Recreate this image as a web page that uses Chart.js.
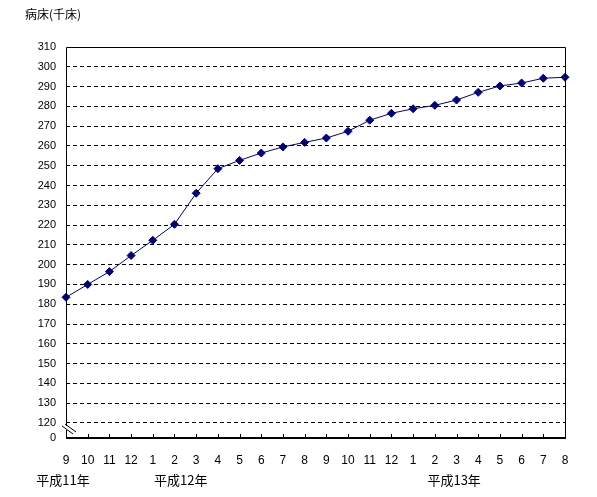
<!DOCTYPE html>
<html>
<head>
<meta charset="utf-8">
<script src="https://cdn.jsdelivr.net/npm/chart.js@4/dist/chart.umd.min.js"></script>
<style>
  html, body { margin: 0; padding: 0; background: #fff; }
  #wrap { width: 597px; height: 497px; position: relative; }
</style>
</head>
<body>
<div id="wrap"><canvas id="bedChart"></canvas></div>
<script>
        const months = ['9', '10', '11', '12', '1', '2', '3', '4', '5', '6', '7', '8',
                        '9', '10', '11', '12', '1', '2', '3', '4', '5', '6', '7', '8'];
        const beds = [183.5, 190, 196.5, 204.6, 212.3, 220.4, 236.1, 248.5, 252.7, 256.4, 259.5, 261.8,
                      264, 267.4, 273, 276.5, 278.8, 280.5, 283.2, 287.1, 290.3, 291.8, 294.2, 294.7];
        const yTicks = [120, 130, 140, 150, 160, 170, 180, 190, 200, 210, 220, 230, 240, 250,
                        260, 270, 280, 290, 300, 310];
        // year captions: [index of month label, text, offset from that label]
        const yearLabels = [[0, '平成11年', -3], [4, '平成12年', 28], [16, '平成13年', 41]];
        const yTitle = '病床(千床)';
        const axisBottom = 112.4; // where the broken axis shows "0"

        const font = "'Liberation Sans', 'Noto Sans CJK JP', sans-serif";
        const cjkFont = "'Noto Sans CJK JP', sans-serif";

        const framePlugin = {
            id: 'frame',
            afterDraw(chart) {
                const ctx = chart.ctx;
                const a = chart.chartArea;
                const x = chart.scales.x;
                const y = chart.scales.y;
                ctx.save();
                ctx.strokeStyle = '#000';
                ctx.lineWidth = 1;
                ctx.beginPath();
                ctx.moveTo(a.left + 0.5, a.bottom);
                ctx.lineTo(a.left + 0.5, a.top + 0.5);
                ctx.lineTo(a.right + 0.5, a.top + 0.5);
                ctx.lineTo(a.right + 0.5, a.bottom);
                ctx.stroke();
                // thick bottom axis
                ctx.lineWidth = 2;
                ctx.beginPath();
                ctx.moveTo(a.left, a.bottom);
                ctx.lineTo(a.right + 1, a.bottom);
                ctx.stroke();
                // small inward tick marks
                ctx.lineWidth = 1;
                ctx.beginPath();
                for (let i = 0; i < months.length; i++) {
                    const px = Math.round(x.getPixelForValue(i)) + 0.5;
                    ctx.moveTo(px, a.bottom);
                    ctx.lineTo(px, a.bottom - 4);
                }
                ctx.stroke();
                // axis break marks
                const yb = y.getPixelForValue(120);
                ctx.strokeStyle = '#fff';
                ctx.lineWidth = 2;
                ctx.beginPath();
                ctx.moveTo(a.left + 0.5, yb + 3);
                ctx.lineTo(a.left + 0.5, yb + 7);
                ctx.stroke();
                ctx.strokeStyle = '#000';
                ctx.lineWidth = 1;
                ctx.beginPath();
                ctx.moveTo(a.left - 4, yb + 3);
                ctx.lineTo(a.left + 7, yb + 11);
                ctx.moveTo(a.left - 1, yb + 1);
                ctx.lineTo(a.left + 10, yb + 9);
                ctx.stroke();
                // texts
                ctx.fillStyle = '#000';
                ctx.font = '12px ' + cjkFont;
                ctx.textBaseline = 'middle';
                ctx.textAlign = 'left';
                ctx.fillText(yTitle, 25, 14);
                ctx.font = '13px ' + cjkFont;
                ctx.textAlign = 'center';
                yearLabels.forEach(([i, t, off]) => {
                    ctx.fillText(t, x.getPixelForValue(i) + off, 480);
                });
                ctx.restore();
            }
        };

        new Chart(document.getElementById('bedChart'), {
            type: 'line',
            data: {
                labels: months,
                datasets: [{
                    data: beds,
                    borderColor: '#000080',
                    backgroundColor: '#000080',
                    borderWidth: 1,
                    pointStyle: 'rectRot',
                    pointRadius: 4,
                    pointBorderWidth: 1,
                    tension: 0,
                    fill: false
                }]
            },
            options: {
                responsive: true,
                maintainAspectRatio: false,
                animation: false,
                layout: { padding: { left: 0, right: 32, top: 47, bottom: 0 } },
                plugins: { legend: { display: false }, tooltip: { enabled: false } },
                scales: {
                    x: {
                        offset: false,
                        grid: { display: false, drawTicks: false },
                        border: { display: false },
                        ticks: {
                            color: '#000', font: { size: 12, family: font },
                            padding: 15, maxRotation: 0, autoSkip: false
                        },
                        afterFit(scale) { scale.height = 59; }
                    },
                    y: {
                        min: axisBottom,
                        max: 310,
                        afterBuildTicks(scale) {
                            scale.ticks = [{ value: axisBottom }].concat(yTicks.map(v => ({ value: v })));
                        },
                        grid: {
                            drawTicks: false,
                            color: '#000',
                            lineWidth: ctx => (ctx.tick && (ctx.tick.value === 310 || ctx.tick.value === axisBottom)) ? 0 : 1
                        },
                        border: { display: false, dash: [4, 3] },
                        ticks: {
                            color: '#000', font: { size: 11, family: font },
                            padding: 10,
                            callback: v => v < 120 ? '0' : String(v)
                        },
                        afterFit(scale) { scale.width = 66; }
                    }
                }
            },
            plugins: [framePlugin]
        });
</script>
</body>
</html>
